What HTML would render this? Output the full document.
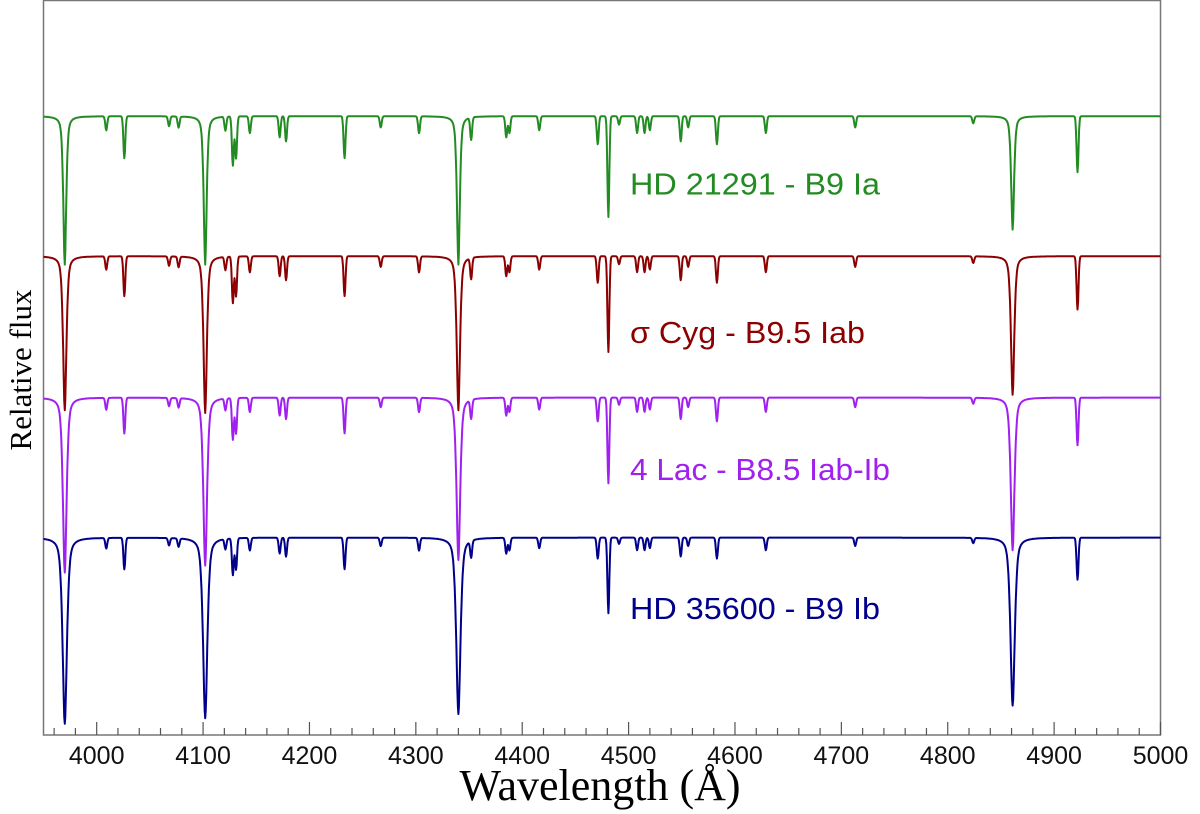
<!DOCTYPE html>
<html><head><meta charset="utf-8">
<style>
html,body{margin:0;padding:0;background:#fff;}
svg{display:block;}
.tick{font-family:"Liberation Sans Narrow","Liberation Sans",sans-serif;font-size:25px;fill:#111;}
.lab{font-family:"Liberation Sans Narrow","Liberation Sans",sans-serif;font-size:31px;}
</style></head>
<body>
<svg id="chart" width="1200" height="814" viewBox="0 0 1200 814" xmlns="http://www.w3.org/2000/svg">
<rect x="43.5" y="0.5" width="1117" height="734.5" fill="none" stroke="#777" stroke-width="1.5"/>
<g id="ticks"></g>
<g id="series"></g>
<g id="labels"></g>
<text x="600" y="800" text-anchor="middle" font-family="Liberation Serif, serif" font-size="44" fill="#000">Wavelength (Å)</text>
<text transform="translate(31,370) rotate(-90)" text-anchor="middle" font-family="Liberation Serif, serif" font-size="31" fill="#000">Relative flux</text>
</svg>
<script>
const starNames = ["HD 21291 - B9 Ia", "σ Cyg - B9.5 Iab", "4 Lac - B8.5 Iab-Ib", "HD 35600 - B9 Ib"];
const starColors = ["#228b22", "#8b0000", "#a020f0", "#00008b"];
const continuumLevels = [4.42, 3.42, 2.41, 1.41];
const labelYLevels = [3.86, 2.80, 1.82, 0.83];
const labelWidths = [250, 235, 260, 250];
const balmerCenters = [3970, 4102, 4340, 4861];
const balmerDepthHD21291 = [1.06, 1.06, 1.06, 0.81];
const balmerDepthSigCyg = [1.10, 1.12, 1.10, 0.99];
const balmerDepth4Lac = [1.25, 1.20, 1.16, 1.09];
const balmerDepthHD35600 = [1.33, 1.29, 1.26, 1.20];
const balmerWidths = [1.5, 1.7, 1.9, 2.2];
const metalCenters = [4009, 4026, 4068, 4077, 4121, 4128, 4131, 4144, 4172, 4178, 4233, 4267, 4303, 4352, 4385, 4388, 4416, 4471, 4481, 4491, 4508, 4515, 4520, 4549, 4556, 4583, 4629, 4713, 4824, 4922];
const metalDepths = [0.10, 0.30, 0.07, 0.08, 0.10, 0.35, 0.30, 0.12, 0.15, 0.18, 0.30, 0.08, 0.12, 0.16, 0.15, 0.12, 0.10, 0.20, 0.72, 0.06, 0.12, 0.12, 0.10, 0.18, 0.08, 0.20, 0.12, 0.08, 0.05, 0.40];
const metalScale = [1.0, 0.95, 0.85, 0.75];
const xTicksMajor = [4000, 4100, 4200, 4300, 4400, 4500, 4600, 4700, 4800, 4900, 5000];
const xMin = 3950, xMax = 5000;

const balmerDepths = [balmerDepthHD21291, balmerDepthSigCyg, balmerDepth4Lac, balmerDepthHD35600];
const NS = "http://www.w3.org/2000/svg";
const X = w => 43.5 + (w - xMin) * (1160.5 - 43.5) / (xMax - xMin);
const Y = v => 735 - v * 140;

const tg = document.getElementById('ticks');
for (let w = 3960; w <= 5000; w += 20) {
  const major = (w % 100 === 0);
  const l = document.createElementNS(NS, 'line');
  
  
  l.setAttribute('x1', X(w)); l.setAttribute('x2', X(w));
  l.setAttribute('y1', 735); l.setAttribute('y2', major ? 722 : 728);
  l.setAttribute('stroke', '#555'); l.setAttribute('stroke-width', '1.2');
  tg.appendChild(l);
}
xTicksMajor.forEach(w => {
  const t = document.createElementNS(NS, 'text');
  
  
  t.setAttribute('x', X(w)); t.setAttribute('y', 764);
  t.setAttribute('text-anchor', 'middle'); t.setAttribute('class', 'tick');
  t.textContent = w; tg.appendChild(t);
});

const sg = document.getElementById('series');
const lg = document.getElementById('labels');
starNames.forEach((name, s) => {
  let d = '';
  for (let w = xMin; w <= xMax; w += 0.5) {
    let f = continuumLevels[s];
    balmerCenters.forEach((c, i) => {
      const u = (w - c) / balmerWidths[s];
      f -= balmerDepths[s][i] * (0.6 / (1 + u * u) + 0.4 * Math.exp(-u * u / 2));
    });
    metalCenters.forEach((c, i) => {
      const u = (w - c) / 0.9;
      f -= metalDepths[i] * metalScale[s] * Math.exp(-u * u / 2);
    });
    d += (d ? 'L' : 'M') + X(w).toFixed(1) + ',' + Y(f).toFixed(1);
  }
  const p = document.createElementNS(NS, 'path');
  
  
  p.setAttribute('d', d); p.setAttribute('fill', 'none');
  p.setAttribute('stroke', starColors[s]); p.setAttribute('stroke-width', '2');
  p.setAttribute('stroke-linejoin', 'round');
  sg.appendChild(p);
  const t = document.createElementNS(NS, 'text');
  
  
  t.setAttribute('x', 630); t.setAttribute('y', Y(labelYLevels[s]));
  t.setAttribute('class', 'lab'); t.setAttribute('fill', starColors[s]);
  t.setAttribute('textLength', labelWidths[s]);
  t.setAttribute('lengthAdjust', 'spacingAndGlyphs');
  t.textContent = name; lg.appendChild(t);
});
</script>
</body></html>
